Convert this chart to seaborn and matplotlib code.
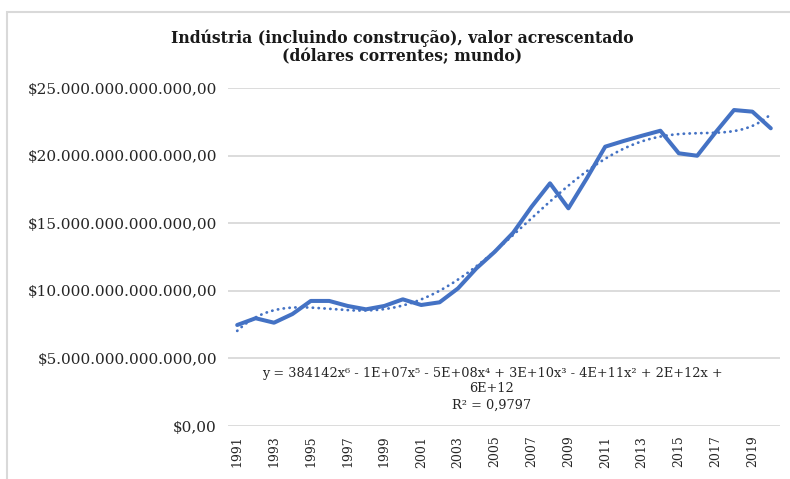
import numpy as np
import pandas as pd
import seaborn as sns
import matplotlib.pyplot as plt
from matplotlib.patches import Rectangle
from matplotlib.ticker import FuncFormatter

# industry value added, world, current US$ (trillions)
years = list(range(1991, 2021))
values_tn = [7.47, 7.97, 7.64, 8.28, 9.25, 9.25, 8.88, 8.63, 8.88, 9.37,
             8.95, 9.15, 10.18, 11.66, 12.89, 14.30, 16.22, 17.95, 16.10, 18.32,
             20.66, 21.08, 21.47, 21.84, 20.17, 19.99, 21.72, 23.37, 23.25, 22.02]
y_ticks_tn = [0, 5, 10, 15, 20, 25]
x_tick_years = list(range(1991, 2020, 2))

title = "Indústria (incluindo construção), valor acrescentado\n(dólares correntes; mundo)"
equation = ("y = 384142x⁶ - 1E+07x⁵ - 5E+08x⁴ + 3E+10x³ - 4E+11x² + 2E+12x +\n"
            "6E+12\nR² = 0,9797")

df = pd.DataFrame({"ano": years, "valor": np.array(values_tn) * 1e12})

sns.set_theme(style="white")
plt.rcParams["font.family"] = ["DejaVu Serif", "DejaVu Sans"]

blue = "#4472C4"
grid = "#D9D9D9"


def brl(v, p):
    # $25.000.000.000.000,00 style
    if v == 0:
        return "$0,00"
    s = f"{v:,.2f}"
    return "$" + s.replace(",", "X").replace(".", ",").replace("X", ".")


fig = plt.figure(figsize=(7.9, 4.79), dpi=100)
ax = fig.add_axes([228 / 790, 1 - 426 / 479, 552 / 790, (426 - 88) / 479])

sns.lineplot(data=df, x="ano", y="valor", color=blue, linewidth=2.9, ax=ax)

# polynomial trendline of order 6 (excel style, x = 1..n)
idx = np.arange(1, len(years) + 1)
coef = np.polyfit(idx, df["valor"], 6)
xs = np.linspace(1, len(years), 300)
ax.plot(xs + 1990, np.polyval(coef, xs), color=blue, linewidth=2.0,
        linestyle=(0, (0.1, 2.0)), dash_capstyle="round")

ax.set_xlim(1990.5, 2020.5)
ax.set_ylim(0, 25e12)
ax.set_yticks([t * 1e12 for t in y_ticks_tn])
ax.yaxis.set_major_formatter(FuncFormatter(brl))
ax.set_xticks(x_tick_years)
ax.set_xticklabels([str(y) for y in x_tick_years], rotation=90)
ax.tick_params(axis="y", length=0, pad=8, labelsize=11, labelcolor="#262626")
ax.tick_params(axis="x", length=0, pad=7, labelsize=9, labelcolor="#262626")
ax.set_xlabel("")
ax.set_ylabel("")
ax.grid(axis="y", color=grid, linewidth=1.3)
ax.set_axisbelow(True)
sns.despine(ax=ax, left=True, bottom=True, top=True, right=True)

fig.text(402 / 790, 1 - 47 / 479, title, ha="center", va="center",
         fontsize=12.5, fontweight="bold", fontstretch="condensed",
         linespacing=1.1, color="#1a1a1a")
fig.text(492 / 790, 1 - 389 / 479, equation, ha="center", va="center",
         multialignment="center", fontsize=9.3, linespacing=1.3, color="#262626")

# light frame around the chart (right and bottom edges cut off in the original)
fig.patches.append(Rectangle((7 / 790, -0.05), 1.0, 1 - 12 / 479 + 0.05,
                             transform=fig.transFigure, fill=False,
                             edgecolor=grid, linewidth=1.5))

fig.savefig("out.png", dpi=100)
